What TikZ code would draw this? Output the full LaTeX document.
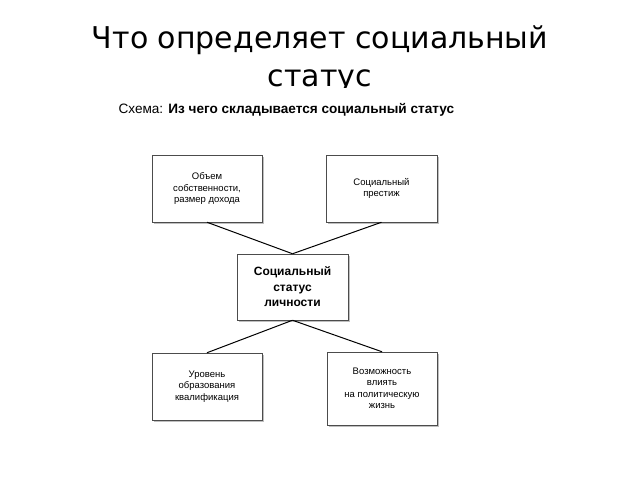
\documentclass[tikz,border=0pt]{standalone}
\usepackage{fontspec}
\setmainfont{Liberation Sans}
\newfontfamily\titlefont{DejaVu Sans}
\begin{document}
\begin{tikzpicture}[x=1pt,y=-1pt,
  bx/.style={draw=black!70,line width=0.5pt,fill=white,align=center,font=\fontsize{9.5}{11.5}\selectfont,inner sep=0pt},
  con/.style={line width=1pt}]
\useasboundingbox[fill=white] (0,0) rectangle (640,480);
\node[font=\titlefont\fontsize{30}{38}\selectfont,align=center,anchor=north] (title) at (320,22) {Что определяет социальный\\статус};
\fill[white] (0,88) rectangle (640,140);
\node[anchor=west,font=\fontsize{13.6}{15}\selectfont] (sub) at (115,110) {Схема: \textbf{Из чего складывается социальный статус}};
% boxes
\foreach \x/\y/\w/\h in {152/155/110/67, 326/155/111/67, 237/254/111/66, 152/353/110/67, 327/352/110/73}{
  \fill[black!25] (\x+2,\y+2) rectangle (\x+\w+2,\y+\h+2);}
\node[bx,minimum width=110pt,minimum height=67pt] (a) at (207,188.5) {Объем\\собственности,\\размер дохода};
\node[bx,minimum width=111pt,minimum height=67pt] (b) at (381.5,188.5) {Социальный\\престиж};
\node[bx,minimum width=111pt,minimum height=66pt,font=\bfseries\fontsize{12}{15.5}\selectfont] (c) at (292.5,287) {Социальный\\статус\\личности};
\node[bx,minimum width=110pt,minimum height=67pt] (d) at (207,386.5) {Уровень\\образования\\квалификация};
\node[bx,minimum width=110pt,minimum height=73pt] (e) at (382,388.5) {Возможность\\влиять\\на политическую\\жизнь};
\draw[con] (a.south) -- (c.north);
\draw[con] (b.south) -- (c.north);
\draw[con] (c.south) -- (d.north);
\draw[con] (c.south) -- (e.north);
\end{tikzpicture}
\end{document}
